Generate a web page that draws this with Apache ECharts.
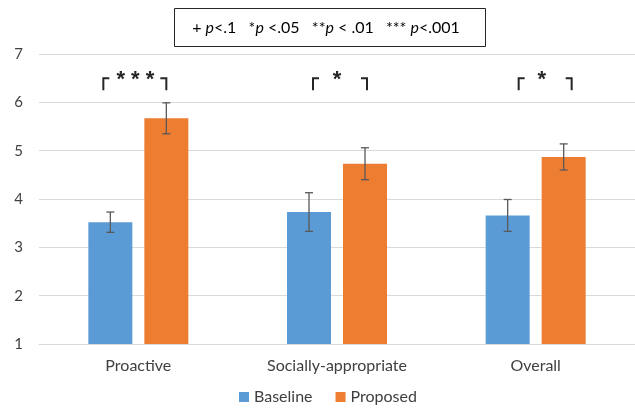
<!DOCTYPE html>
<html>
<head>
<meta charset="utf-8">
<script src="https://cdn.jsdelivr.net/npm/echarts@6/dist/echarts.min.js"></script>
<style>
html,body{margin:0;padding:0;background:#fff;}
#main{width:635px;height:413px;}
</style>
</head>
<body>
<div id="main"></div>
<script>
// ---- data ----
const categories = ['Proactive', 'Socially-appropriate', 'Overall'];
const baselineMeans = [3.52, 3.73, 3.66];
const baselineErr = [0.21, 0.40, 0.33];
const proposedMeans = [5.67, 4.73, 4.87];
const proposedErr = [0.32, 0.33, 0.27];
const sigLabels = ['* * *', '*', '*'];
const yTicks = [1, 2, 3, 4, 5, 6, 7];

// ---- layout / style ----
const FONT = 'Lato, "Open Sans", sans-serif';
const BAR_W = 44, BAR_GAP = 12;
const SHIFT = (BAR_W + BAR_GAP) / 2;
const bracketLevel = 6.5, bracketDrop = 12;
const annotOffsets = [[-35, 28, -3], [-24, 30, 0], [-17, 36, 6]]; // left, right, star dx

const chart = echarts.init(document.getElementById('main'), null, {renderer: 'canvas'});

function errData(means, errs) {
  return means.map((m, i) => [i, m - errs[i], m + errs[i]]);
}
function errSeries(name, means, errs, dx) {
  return {
    type: 'custom', name: name + '-err', z: 10, silent: true,
    data: errData(means, errs),
    encode: {x: 0, y: [1, 2]},
    renderItem: function (params, api) {
      const lo = api.coord([api.value(0), api.value(1)]);
      const hi = api.coord([api.value(0), api.value(2)]);
      const x = lo[0] + dx, c = 4;
      const st = {stroke: '#595959', lineWidth: 1.3};
      return {type: 'group', children: [
        {type: 'line', shape: {x1: x, y1: lo[1], x2: x, y2: hi[1]}, style: st},
        {type: 'line', shape: {x1: x - c, y1: lo[1], x2: x + c, y2: lo[1]}, style: st},
        {type: 'line', shape: {x1: x - c, y1: hi[1], x2: x + c, y2: hi[1]}, style: st}
      ]};
    }
  };
}

const option = {
  animation: false,
  textStyle: {fontFamily: FONT},
  grid: {left: 39, right: 0, top: 54, bottom: 69},
  xAxis: {
    type: 'category', data: categories,
    axisLine: {lineStyle: {color: '#d9d9d9', width: 1}},
    axisTick: {show: false},
    axisLabel: {color: '#404040', fontSize: 16, margin: 14, fontFamily: FONT}
  },
  yAxis: {
    type: 'value', min: yTicks[0], max: yTicks[yTicks.length - 1], interval: 1,
    axisLine: {show: false}, axisTick: {show: false},
    axisLabel: {color: '#404040', fontSize: 15, margin: 16, fontFamily: FONT},
    splitLine: {lineStyle: {color: '#d9d9d9', width: 1}}
  },
  legend: {
    bottom: 3, left: 234, icon: 'rect', itemWidth: 10, itemHeight: 10, itemGap: 23,
    data: ['Baseline', 'Proposed'],
    textStyle: {color: '#404040', fontSize: 16, fontFamily: FONT}
  },
  series: [
    {name: 'Baseline', type: 'bar', data: baselineMeans, barWidth: BAR_W,
     barGap: (BAR_GAP / BAR_W * 100) + '%', itemStyle: {color: '#5B9BD5'}},
    {name: 'Proposed', type: 'bar', data: proposedMeans, barWidth: BAR_W,
     itemStyle: {color: '#ED7D31'}},
    errSeries('Baseline', baselineMeans, baselineErr, -SHIFT),
    errSeries('Proposed', proposedMeans, proposedErr, SHIFT),
    {
      type: 'custom', name: 'sig', silent: true, z: 10,
      data: categories.map((c, i) => [i, bracketLevel]),
      renderItem: function (params, api) {
        const i = api.value(0);
        const p = api.coord([i, api.value(1)]);
        const o = annotOffsets[i];
        const st = {stroke: '#262626', lineWidth: 2};
        const xl = p[0] + o[0], xr = p[0] + o[1], y = p[1];
        return {type: 'group', children: [
          {type: 'polyline', shape: {points: [[xl, y + bracketDrop], [xl, y], [xl + 6, y]]}, style: Object.assign({fill: null}, st)},
          {type: 'polyline', shape: {points: [[xr - 6, y], [xr, y], [xr, y + bracketDrop]]}, style: Object.assign({fill: null}, st)},
          {type: 'text', style: {text: sigLabels[i], x: p[0] + o[2], y: y + 2, align: 'center', verticalAlign: 'middle',
            font: 'bold 22px "Liberation Sans", sans-serif', fill: '#262626'}}
        ]};
      }
    }
  ],
  graphic: [
    {type: 'rect', shape: {x: 174.5, y: 8.5, width: 311, height: 38},
     style: {fill: '#fff', stroke: '#262626', lineWidth: 1}},
    {type: 'text', x: 326, y: 28,
     style: {
       text: '+ {i|p}<.1   *{i|p} <.05   **{i|p} < .01   *** {i|p}<.001',
       align: 'center', verticalAlign: 'middle',
       font: '16px ' + FONT, fill: '#000',
       rich: {i: {fontStyle: 'italic', fontSize: 16, fontFamily: FONT, fill: '#000'}}
     }}
  ]
};
chart.setOption(option);
</script>
</body>
</html>
